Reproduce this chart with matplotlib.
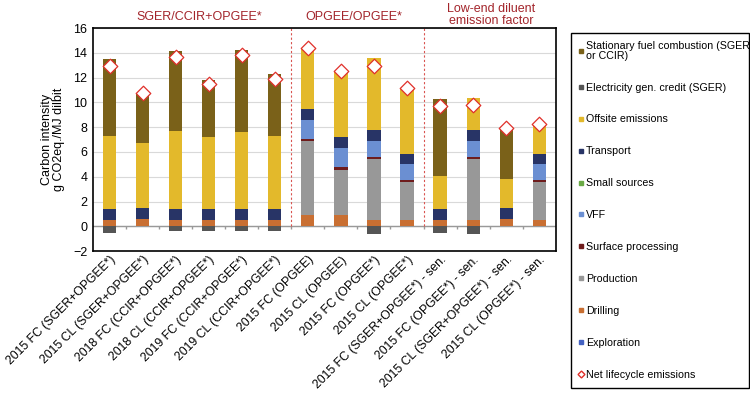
import numpy as np
import matplotlib
matplotlib.use("Agg")
import matplotlib.pyplot as plt
from matplotlib.lines import Line2D

plt.rcParams['font.family'] = ['Liberation Sans', 'DejaVu Sans']

categories = ["2015 FC (SGER+OPGEE*)", "2015 CL (SGER+OPGEE*)",
              "2018 FC (CCIR+OPGEE*)", "2018 CL (CCIR+OPGEE*)",
              "2019 FC (CCIR+OPGEE*)", "2019 CL (CCIR+OPGEE*)",
              "2015 FC (OPGEE)", "2015 CL (OPGEE)",
              "2015 FC (OPGEE*)", "2015 CL (OPGEE*)",
              "2015 FC (SGER+OPGEE*) - sen.", "2015 FC (OPGEE*) - sen.",
              "2015 CL (SGER+OPGEE*) - sen.", "2015 CL (OPGEE*) - sen."]

exploration = [0, 0, 0, 0, 0, 0, 0, 0, 0, 0, 0, 0, 0, 0]
drilling = [0.54, 0.59, 0.54, 0.54, 0.54, 0.54, 0.94, 0.94, 0.54, 0.54, 0.54, 0.54, 0.59, 0.54]
production = [0, 0, 0, 0, 0, 0, 5.91, 3.62, 4.88, 3.00, 0, 4.88, 0, 3.03]
surface = [0, 0, 0, 0, 0, 0, 0.18, 0.22, 0.14, 0.19, 0, 0.14, 0, 0.17]
vff = [0, 0, 0, 0, 0, 0, 1.56, 1.53, 1.34, 1.29, 0, 1.34, 0, 1.28]
small = [0, 0, 0, 0, 0, 0, 0, 0, 0, 0, 0, 0, 0, 0]
transport = [0.86, 0.91, 0.86, 0.86, 0.86, 0.86, 0.89, 0.86, 0.89, 0.83, 0.86, 0.89, 0.91, 0.83]
offsite = [5.85, 5.21, 6.30, 5.79, 6.25, 5.85, 4.83, 5.37, 5.77, 5.29, 2.63, 2.60, 2.34, 2.42]
elec = [-0.54, 0, -0.42, -0.35, -0.40, -0.35, 0, 0, -0.59, 0, -0.54, -0.59, 0, 0]
stationary = [6.23, 4.03, 6.45, 4.62, 6.58, 5.05, 0, 0, 0, 0, 6.25, 0, 4.08, 0]
net = [12.94, 10.74, 13.69, 11.45, 13.83, 11.90, 14.36, 12.56, 12.97, 11.19, 9.72, 9.80, 7.92, 8.25]

groups = ["SGER/CCIR+OPGEE*", "OPGEE/OPGEE*", "Low-end diluent\nemission factor"]

c_stat = '#7a6119'
c_elec = '#555555'
c_off = '#e3b92b'
c_trans = '#283466'
c_small = '#6aaa45'
c_vff = '#6b8fd2'
c_surf = '#6e1c1c'
c_prod = '#989898'
c_drill = '#c96f32'
c_expl = '#4462c2'
c_net = '#e0302a'
red_txt = '#a3252b'

fig = plt.figure(figsize=(7.5, 3.96), dpi=100)
ax = fig.add_axes([0.124, 0.366, 0.617, 0.563])

x = np.arange(len(categories))
w = 0.4
stack = [(exploration, c_expl), (drilling, c_drill), (production, c_prod),
         (surface, c_surf), (vff, c_vff), (small, c_small),
         (transport, c_trans), (offsite, c_off), (stationary, c_stat)]
bottom = np.zeros(len(x))
for vals, col in stack:
    vals = np.array(vals)
    ax.bar(x, vals, w, bottom=bottom, color=col, zorder=3)
    bottom += vals
ax.bar(x, elec, w, color=c_elec, zorder=3)
ax.scatter(x, net, marker='D', s=55, facecolor='white', edgecolor=c_net,
           linewidth=0.9, zorder=4)

ax.set_xlim(-0.5, len(x) - 0.5)
ax.set_ylim(-2, 16)
ax.set_yticks(np.arange(-2, 17, 2))
ax.yaxis.grid(True, color='#d9d9d9', linewidth=0.8, zorder=0)
ax.axhline(0, color='#999999', linewidth=1, zorder=2)
ax.vlines(x[:-1] + 0.5, -0.2, 0, color='#999999', linewidth=1, zorder=2)
ax.vlines([5.5, 9.5], 0, 16, color='#d9534f', linestyle=(0, (2, 2)),
          linewidth=0.8, zorder=2)
ax.tick_params(axis='x', length=0, pad=2)
ax.tick_params(axis='y', length=0, labelsize=9, pad=4)
ax.set_xticks(x)
ax.set_xticklabels(categories, rotation=45, ha='right', va='top',
                   rotation_mode='anchor', fontsize=8.8)
for s in ax.spines.values():
    s.set_linewidth(1.2)
ax.set_ylabel("Carbon intensity\ng CO2eq./MJ dilbit", fontsize=9, labelpad=6,
              linespacing=1.0)

ax.text(2.72, 16.9, groups[0], ha='center', va='center', color=red_txt, fontsize=9)
ax.text(7.38, 16.9, groups[1], ha='center', va='center', color=red_txt, fontsize=9)
ax.text(11.55, 17.05, groups[2], ha='center', va='center', color=red_txt,
        fontsize=9, linespacing=1.05)

def sq(col):
    return Line2D([], [], marker='s', linestyle='none', markersize=3.5,
                  markerfacecolor=col, markeredgecolor=col)

handles = [sq(c_stat), sq(c_elec), sq(c_off), sq(c_trans), sq(c_small),
           sq(c_vff), sq(c_surf), sq(c_prod), sq(c_drill), sq(c_expl),
           Line2D([], [], marker='D', linestyle='none', markersize=3.5,
                  markerfacecolor='white', markeredgecolor=c_net)]
labels = ["Stationary fuel combustion (SGER\nor CCIR)", "Electricity gen. credit (SGER)",
          "Offsite emissions", "Transport", "Small sources", "VFF",
          "Surface processing", "Production", "Drilling", "Exploration",
          "Net lifecycle emissions"]
leg = fig.legend(handles, labels, loc='upper left',
                 bbox_to_anchor=(0.761, 0.917, 0.237, 0.0), mode='expand',
                 fontsize=7.7, handlelength=0.4, handletextpad=0.25,
                 labelspacing=2.05, borderpad=0.8, borderaxespad=0,
                 fancybox=False, edgecolor='black', framealpha=1)
leg.get_frame().set_linewidth(1.0)
for t in leg.get_texts():
    t.set_linespacing(0.9)

fig.savefig("out.png", dpi=100)
